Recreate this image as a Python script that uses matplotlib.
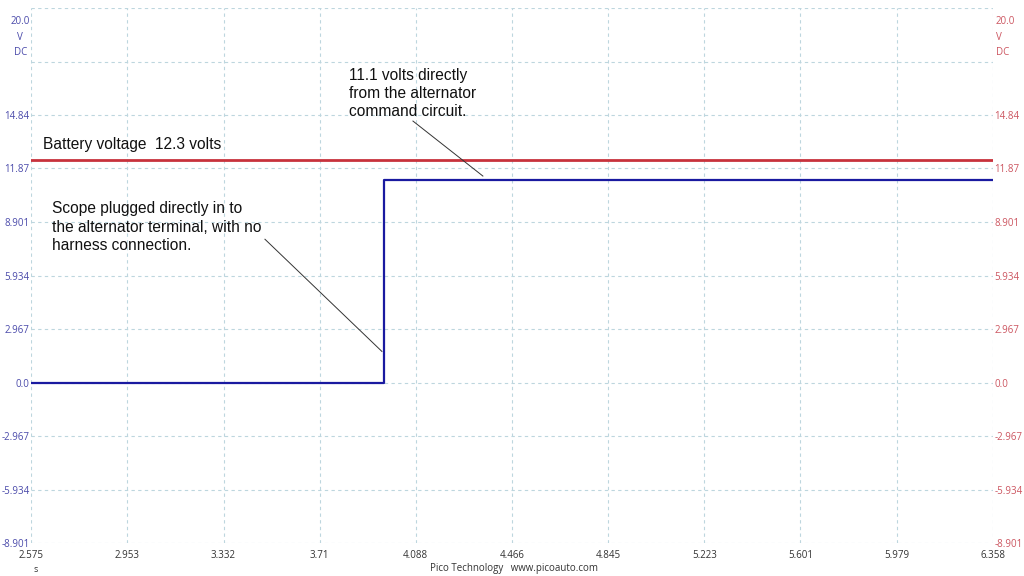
import matplotlib.pyplot as plt
import numpy as np

# time axis (s)
x_ticks = [2.575, 2.953, 3.332, 3.710, 4.088, 4.466, 4.845, 5.223, 5.601, 5.979, 6.358]
x_labels = ["2.575", "2.953", "3.332", "3.71", "4.088", "4.466", "4.845", "5.223", "5.601", "5.979", "6.358"]

# voltage axis (V DC)
y_grid = [-8.901, -5.934, -2.967, 0.0, 2.967, 5.934, 8.901, 11.87, 14.84, 17.80, 20.77]
y_ticks = [-8.901, -5.934, -2.967, 0.0, 2.967, 5.934, 8.901, 11.87, 14.84]
y_labels = ["-8.901", "-5.934", "-2.967", "0.0", "2.967", "5.934", "8.901", "11.87", "14.84"]

# channel A (alternator command), channel B (battery)
blue_t = [2.575, 3.963, 3.963, 6.358]
blue_v = [0.0, 0.0, 11.22, 11.22]
red_t = [2.575, 6.358]
red_v = [12.33, 12.33]

BLUE = "#1a1aa0"
RED = "#c8323c"
BLUE_TXT = "#4a4aaa"
RED_TXT = "#cc5560"
GRID = "#bdd6de"

plt.rcParams['font.family'] = ['Open Sans', 'DejaVu Sans']

fig = plt.figure(figsize=(10.24, 5.76), dpi=100)
ax = fig.add_axes([31/1024, 1 - 543/576, 962/1024, 535/576])
ax.set_xlim(x_ticks[0], x_ticks[-1])
ax.set_ylim(y_grid[0], y_grid[-1])

for y in y_grid:
    ax.axhline(y, color=GRID, lw=0.8, ls=(0, (3, 3)), zorder=0)
for x in x_ticks:
    ax.axvline(x, color=GRID, lw=0.8, ls=(0, (3, 3)), zorder=0)

ax.plot(red_t, red_v, color=RED, lw=2.0, zorder=3)
ax.plot(blue_t, blue_v, color=BLUE, lw=1.6, zorder=4)

for s in ax.spines.values():
    s.set_visible(False)

ax.set_xticks(x_ticks)
ax.set_xticklabels(x_labels, fontsize=7, color="#333333")
ax.tick_params(axis='x', length=0, pad=5)
ax.set_yticks(y_ticks)
ax.set_yticklabels(y_labels, fontsize=7, color=BLUE_TXT)
ax.tick_params(axis='y', length=0, pad=1)

ax2 = ax.twinx()
ax2.set_ylim(y_grid[0], y_grid[-1])
ax2.set_yticks(y_ticks)
ax2.set_yticklabels(y_labels, fontsize=7, color=RED_TXT)
ax2.tick_params(axis='y', length=0, pad=1)
for s in ax2.spines.values():
    s.set_visible(False)

# channel range labels at the top
fig.text(30/1024, 1 - 37/576, "20.0\nV\nDC", ha='right', va='center', fontsize=7,
         color=BLUE_TXT, linespacing=1.6, multialignment='center')
fig.text(996/1024, 1 - 37/576, "20.0\nV\nDC", ha='left', va='center', fontsize=7,
         color=RED_TXT, linespacing=1.6, multialignment='left')

fig.text(33/1024, 1 - 570/576, "s", fontsize=6.5, color="#333333", ha='left', va='center')
fig.text(514/1024, 1 - 569/576, "Pico Technology   www.picoauto.com", fontsize=7,
         color="#333333", ha='center', va='center')

# annotations
af = dict(family=['Liberation Sans', 'DejaVu Sans'], fontsize=11.2, color="#111111")
ax.text(2.622, 13.22, "Battery voltage  12.3 volts", ha='left', va='center', **af)
ax.text(3.826, 17.45, "11.1 volts directly\nfrom the alternator\ncommand circuit.",
        ha='left', va='top', linespacing=1.27, **af)
ax.plot([4.077, 4.352], [14.50, 11.45], color="#333333", lw=0.7, zorder=5)
ax.text(2.658, 10.05, "Scope plugged directly in to\nthe alternator terminal, with no\nharness connection.",
        ha='left', va='top', linespacing=1.28, **af)
ax.plot([3.495, 3.955], [7.945, 1.722], color="#333333", lw=0.7, zorder=5)

fig.savefig("out.png", dpi=100, facecolor='white')
